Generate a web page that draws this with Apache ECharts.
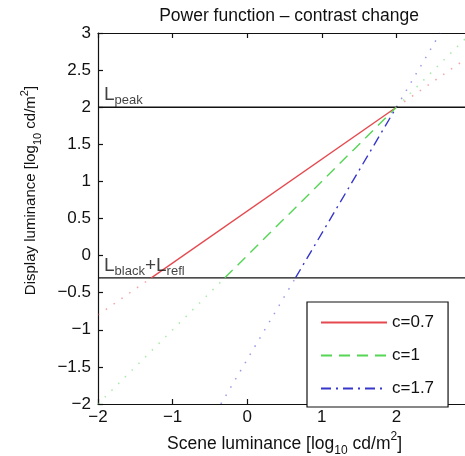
<!DOCTYPE html>
<html>
<head>
<meta charset="utf-8">
<script src="https://cdn.jsdelivr.net/npm/echarts@6/dist/echarts.min.js"></script>
<style>
  html, body { margin: 0; padding: 0; background: #fff; }
  #chart { width: 465px; height: 456px; }
</style>
</head>
<body>
<div id="chart"></div>
<script>
// Tone curves: display log-luminance vs scene log-luminance, clipped at the display range
const seriesNames = ['c=0.7', 'c=1', 'c=1.7'];
const seriesColors = ['#e5494f', '#55d655', '#3636cc'];

// In-range parts of each curve (between L_black+L_refl and L_peak)
const lineC07 = [[-1.286, -0.3], [2, 2]];
const lineC1 = [[-0.3, -0.3], [2, 2]];
const lineC17 = [[0.647, -0.3], [2, 2]];

// Out-of-range continuations (below the black level and above the peak)
const extC07Low = [[-2, -0.8], [-1.286, -0.3]];
const extC07High = [[2, 2], [3, 2.7]];
const extC1Low = [[-2, -2], [-0.3, -0.3]];
const extC1High = [[2, 2], [3, 3]];
const extC17Low = [[-0.353, -2], [0.647, -0.3]];
const extC17High = [[2, 2], [2.588, 3]];

// Display limits
const peakLevel = [[-2, 2], [3, 2]];
const blackLevel = [[-2, -0.3], [3, -0.3]];

const xTicks = { min: -2, max: 3, interval: 1 };
const yTicks = { min: -2, max: 3, interval: 0.5 };

const FONT = 'Liberation Sans, Arial, sans-serif';
const INK = '#111';
const minus = v => String(v).replace('-', '\u2212');

const chart = echarts.init(document.getElementById('chart'), null, { renderer: 'canvas' });

const axisCommon = {
  axisLine: { show: true, onZero: false, lineStyle: { color: INK, width: 1.2 } },
  axisTick: { show: true, inside: true, length: 5, lineStyle: { color: INK, width: 1.2 } },
  splitLine: { show: false }
};

function nameRich(size, subSize, lh) {
  return {
    n: { fontFamily: FONT, fontSize: size, color: INK, lineHeight: lh, verticalAlign: 'middle' },
    sub: { fontFamily: FONT, fontSize: subSize, color: INK, lineHeight: lh, verticalAlign: 'bottom' },
    sup: { fontFamily: FONT, fontSize: subSize, color: INK, lineHeight: lh, verticalAlign: 'top' }
  };
}

function dotted(data, color) {
  return {
    type: 'line', data, symbol: 'none', silent: true,
    lineStyle: { color, width: 1.5, type: [1.5, 8], opacity: 0.5 },
    z: 1
  };
}

const option = {
  animation: false,
  backgroundColor: '#fff',
  title: {
    text: 'Power function \u2013 contrast change',
    left: 284, top: 2, textAlign: 'center',
    textStyle: { fontFamily: FONT, fontSize: 17.5, fontWeight: 'normal', color: INK }
  },
  grid: { left: 98, top: 33, width: 373, height: 371, containLabel: false, outerBoundsMode: 'none' },
  xAxis: [
    Object.assign({}, axisCommon, {
      type: 'value', position: 'bottom', min: xTicks.min, max: xTicks.max, interval: xTicks.interval,
      axisLabel: { color: INK, fontFamily: FONT, fontSize: 17, margin: 5, formatter: minus },
      name: '{n|Scene luminance [log}{sub|10}{n| cd/m}{sup|2}{n|]}',
      nameLocation: 'middle', nameGap: 25,
      nameTextStyle: { color: INK, fontFamily: FONT, rich: nameRich(17.5, 12, 26) }
    }),
    Object.assign({}, axisCommon, {
      type: 'value', position: 'top', min: xTicks.min, max: xTicks.max, interval: xTicks.interval,
      axisLabel: { show: false }
    })
  ],
  yAxis: [
    Object.assign({}, axisCommon, {
      type: 'value', position: 'left', min: yTicks.min, max: yTicks.max, interval: yTicks.interval,
      axisLabel: { color: INK, fontFamily: FONT, fontSize: 17, margin: 7, formatter: minus },
      name: '{n|Display luminance [log}{sub|10}{n| cd/m}{sup|2}{n|]}',
      nameLocation: 'middle', nameGap: 55, nameRotate: 90,
      nameTextStyle: { color: INK, fontFamily: FONT, padding: [0, 0, 0, 56], rich: nameRich(15, 11, 24) }
    }),
    Object.assign({}, axisCommon, {
      type: 'value', position: 'right', min: yTicks.min, max: yTicks.max, interval: yTicks.interval,
      axisLabel: { show: false }
    })
  ],
  legend: {
    data: seriesNames,
    orient: 'vertical',
    left: 307, top: 302,
    padding: [12, 14, 10, 13],
    itemWidth: 66, itemHeight: 14, itemGap: 16,
    itemStyle: { opacity: 0 },
    backgroundColor: '#fff',
    borderColor: INK, borderWidth: 1.2, borderRadius: 0,
    textStyle: { fontFamily: FONT, fontSize: 17, color: INK },
    selectedMode: false
  },
  series: [
    dotted(extC07Low, seriesColors[0]),
    dotted(extC07High, seriesColors[0]),
    dotted(extC1Low, seriesColors[1]),
    dotted(extC1High, seriesColors[1]),
    dotted(extC17Low, seriesColors[2]),
    dotted(extC17High, seriesColors[2]),
    {
      type: 'line', name: 'peak', data: peakLevel, symbol: 'none', silent: true,
      lineStyle: { color: INK, width: 1.4 }, z: 3
    },
    {
      type: 'line', name: 'black', data: blackLevel, symbol: 'none', silent: true,
      lineStyle: { color: INK, width: 1.4 }, z: 3
    },
    {
      type: 'line', name: seriesNames[0], data: lineC07, symbol: 'none', color: seriesColors[0],
      lineStyle: { color: seriesColors[0], width: 1.4, type: 'solid' }, z: 4
    },
    {
      type: 'line', name: seriesNames[1], data: lineC1, symbol: 'none', color: seriesColors[1],
      lineStyle: { color: seriesColors[1], width: 1.4, type: [11, 7] }, z: 4
    },
    {
      type: 'line', name: seriesNames[2], data: lineC17, symbol: 'none', color: seriesColors[2],
      lineStyle: { color: seriesColors[2], width: 1.4, type: [10, 5, 2, 5] }, z: 4
    },
    {
      // Level annotations
      type: 'scatter', silent: true, symbolSize: 0, z: 5,
      data: [
        { value: [-2, 2], label: { formatter: '{n|L}{sub|peak}' } },
        { value: [-2, -0.3], label: { formatter: '{n|L}{sub|black}{n|+L}{sub|refl}' } }
      ],
      label: {
        show: true, position: [6, -25], color: INK,
        rich: {
          n: { fontFamily: FONT, fontSize: 19, color: INK, lineHeight: 25, verticalAlign: 'middle' },
          sub: { fontFamily: FONT, fontSize: 13, color: INK, lineHeight: 25, verticalAlign: 'bottom' }
        }
      }
    }
  ]
};

chart.setOption(option);
</script>
</body>
</html>
